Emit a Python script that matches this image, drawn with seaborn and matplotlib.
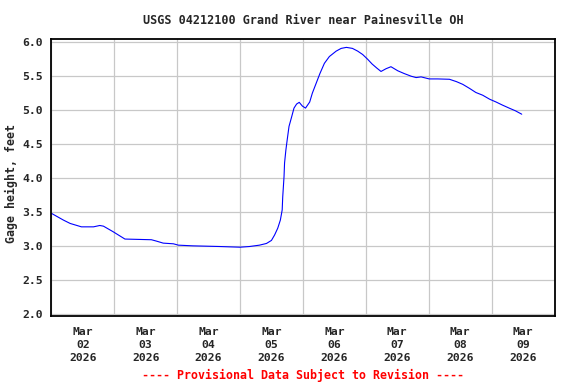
import matplotlib
matplotlib.use("Agg")
import matplotlib.pyplot as plt
import matplotlib.dates as mdates
import matplotlib.ticker as mticker
import numpy as np
import pandas as pd
import seaborn as sns

# hours since 2026-03-02 00:00
hours = [0.0, 4.6, 7.2, 11.5, 16.1, 18.5, 19.9, 23.5, 28.1, 38.2, 40.1, 42.7, 46.6,
         48.5, 54.0, 64.3, 72.0, 75.6, 79.4, 82.1, 84.0, 85.2, 86.4, 87.4, 88.1, 88.3,
         88.8, 89.0, 89.5, 90.0, 90.7, 91.7, 92.6, 93.6, 94.6, 95.8, 97.0, 98.6, 99.6,
         100.8, 102.5, 104.2, 106.1, 108.7, 110.6, 112.6, 114.9, 116.9, 118.8, 120.7,
         122.4, 124.2, 125.8, 127.7, 129.6, 132.2, 134.6, 137.3, 139.2, 141.1, 144.2,
         147.4, 151.9, 154.6, 157.0, 159.6, 162.0, 164.6, 167.3, 169.7, 172.1, 174.7,
         177.1, 179.5]
gage = [3.48, 3.38, 3.33, 3.28, 3.28, 3.30, 3.29, 3.21, 3.10, 3.09, 3.07, 3.04, 3.03,
        3.01, 3.00, 2.99, 2.98, 2.99, 3.01, 3.035, 3.08, 3.16, 3.26, 3.38, 3.53, 3.72,
        4.02, 4.22, 4.41, 4.56, 4.76, 4.90, 5.03, 5.09, 5.115, 5.06, 5.03, 5.12, 5.25,
        5.37, 5.54, 5.69, 5.79, 5.87, 5.91, 5.925, 5.91, 5.87, 5.82, 5.75, 5.68, 5.62,
        5.57, 5.61, 5.64, 5.58, 5.54, 5.50, 5.48, 5.49, 5.46, 5.46, 5.455, 5.42, 5.38,
        5.32, 5.26, 5.22, 5.16, 5.12, 5.075, 5.03, 4.99, 4.94]

title = "USGS 04212100 Grand River near Painesville OH"
ylabel = "Gage height, feet"
footer = "---- Provisional Data Subject to Revision ----"
y_ticks = [2.0, 2.5, 3.0, 3.5, 4.0, 4.5, 5.0, 5.5, 6.0]

start = pd.Timestamp("2026-03-02 00:00")
df = pd.DataFrame({"time": start + pd.to_timedelta(hours, unit="h"), "gage": gage})

sns.set_style("white")
plt.rcParams["font.family"] = ["DejaVu Sans Mono"]
plt.rcParams["font.weight"] = "bold"

W, H = 576, 384
L, R, T, B = 51.3, 554.5, 39.3, 316.0
fig = plt.figure(figsize=(W / 100, H / 100), dpi=100)
ax = fig.add_axes([L / W, 1 - B / H, (R - L) / W, (B - T) / H])

sns.lineplot(data=df, x="time", y="gage", ax=ax, color="#0000ff", linewidth=0.8)

ax.set_xlim(start, start + pd.Timedelta(days=8))
ax.set_ylim(1.966, 6.044)
ax.set_yticks(y_ticks)
ax.yaxis.set_major_formatter(mticker.FormatStrFormatter("%.1f"))

# grid at midnight, labels at noon
ax.xaxis.set_major_locator(mdates.HourLocator(byhour=[12]))
ax.xaxis.set_major_formatter(mdates.DateFormatter("%b\n%d\n%Y"))
ax.xaxis.set_minor_locator(mdates.DayLocator())
ax.grid(False)
ax.grid(which="minor", axis="x", color="#c8c8c8", linewidth=0.9)
ax.grid(which="major", axis="y", color="#c8c8c8", linewidth=0.9)
ax.tick_params(axis="both", which="both", length=0)
ax.tick_params(axis="x", pad=8, labelsize=8.2)
ax.tick_params(axis="y", pad=6, labelsize=8.2)
for lab in ax.get_xticklabels() + ax.get_yticklabels():
    lab.set_fontweight("bold")
    lab.set_linespacing(1.35)

for s in ax.spines.values():
    s.set_visible(True)
    s.set_color("black")
    s.set_linewidth(1.3)

ax.set_xlabel("")
ax.set_ylabel(ylabel, fontsize=8.4, fontweight="bold", va="center")
ax.yaxis.set_label_coords((11.5 - L) / (R - L), 0.48)

cx = (L + R) / 2 / W
fig.text(cx, 1 - 20.5 / H, title, ha="center", va="center", fontsize=8.45, fontweight="bold")
fig.text(cx, 1 - 375.3 / H, footer, ha="center", va="center", fontsize=8.4,
         fontweight="bold", color="red")

fig.savefig("out.png", dpi=100, facecolor="white")
